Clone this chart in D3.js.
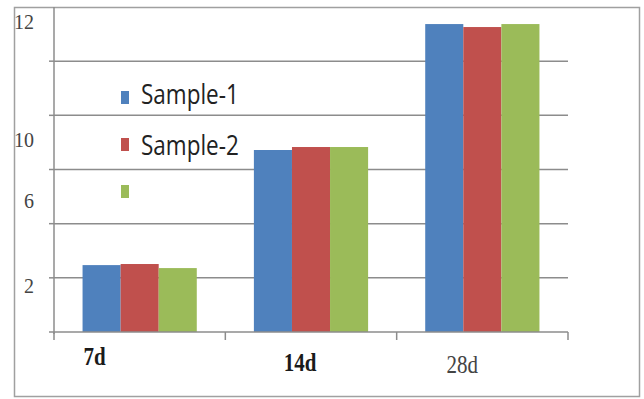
<!DOCTYPE html>
<html>
<head>
<meta charset="utf-8">
<script src="https://cdn.jsdelivr.net/npm/d3@7"></script>
<style>
  html, body { margin: 0; padding: 0; background: #fff; }
  svg { display: block; }
</style>
</head>
<body>
<svg id="chart" width="644" height="399"></svg>
<script>
// Curing ages and series
const categories = ["7d", "14d", "28d"];
const seriesNames = ["Sample-1", "Sample-2", ""];
const sample1 = [2.47, 6.72, 11.37];
const sample2 = [2.51, 6.83, 11.26];
const sample3 = [2.36, 6.83, 11.37];
const seriesValues = [sample1, sample2, sample3];
const seriesColors = ["#4F81BD", "#C0504D", "#9BBB59"];

// Axis
const yDomain = [0, 12];
const gridValues = [2, 4, 6, 8, 10];
const yTickLabels = ["12", "10", "6", "2"];
const yTickLabelAt = [11.45, 7.1, 4.85, 1.7];
const xLabelBold = [true, true, false];
const xLabelShift = [-45, -11, -20];
const xLabelBaseline = [365, 371, 373];

const svg = d3.select("#chart");
const plotLeft = 54, plotRight = 568, plotTop = 7, plotBottom = 332;
const stretch = 1.2; // text is drawn taller than wide

// outer frame
svg.append("rect")
  .attr("x", 14.5).attr("y", 7.5)
  .attr("width", 625).attr("height", 389)
  .attr("fill", "none").attr("stroke", "#a0a0a0").attr("stroke-width", 1.5);

const x = d3.scaleBand().domain(categories).range([plotLeft, plotRight]).paddingInner(0).paddingOuter(0);
const y = d3.scaleLinear().domain(yDomain).range([plotBottom, plotTop]);
const inner = d3.scaleBand().domain(d3.range(seriesValues.length))
  .range([0, x.bandwidth()]).paddingInner(0).paddingOuter(0.75);

// gridlines
svg.append("g").selectAll("line").data(gridValues).join("line")
  .attr("x1", plotLeft).attr("x2", plotRight)
  .attr("y1", d => y(d)).attr("y2", d => y(d))
  .attr("stroke", "#8c8c8c").attr("stroke-width", 1.5);

// y axis line and tick marks
svg.append("line").attr("x1", plotLeft).attr("x2", plotLeft).attr("y1", plotTop).attr("y2", plotBottom + 2)
  .attr("stroke", "#8c8c8c").attr("stroke-width", 1.5);
svg.append("g").selectAll("line").data(gridValues.concat([0])).join("line")
  .attr("x1", plotLeft - 5).attr("x2", plotLeft)
  .attr("y1", d => y(d)).attr("y2", d => y(d))
  .attr("stroke", "#8c8c8c").attr("stroke-width", 1.5);

// bars
seriesValues.forEach((vals, si) => {
  svg.append("g").selectAll("rect").data(vals).join("rect")
    .attr("x", (d, i) => x(categories[i]) + inner(si))
    .attr("width", inner.bandwidth())
    .attr("y", d => y(d))
    .attr("height", d => y(0) - y(d))
    .attr("fill", seriesColors[si]);
});

// x axis line and ticks
svg.append("line").attr("x1", plotLeft).attr("x2", plotRight).attr("y1", plotBottom).attr("y2", plotBottom)
  .attr("stroke", "#8c8c8c").attr("stroke-width", 1.5);
const xTicks = [plotLeft].concat(categories.map(c => x(c) + x.bandwidth()));
svg.append("g").selectAll("line").data(xTicks).join("line")
  .attr("x1", d => d).attr("x2", d => d)
  .attr("y1", plotBottom).attr("y2", plotBottom + 8)
  .attr("stroke", "#8c8c8c").attr("stroke-width", 1.5);

// x labels
svg.append("g").selectAll("text").data(categories).join("text")
  .attr("transform", (d, i) =>
    `translate(${x(d) + x.bandwidth() / 2 + xLabelShift[i]},${xLabelBaseline[i]}) scale(1,${stretch})`)
  .attr("text-anchor", "middle")
  .attr("font-family", "Liberation Serif, serif")
  .attr("font-size", 21)
  .attr("font-weight", (d, i) => xLabelBold[i] ? "bold" : "normal")
  .attr("fill", (d, i) => xLabelBold[i] ? "#1a1a1a" : "#444")
  .text(d => d);

// y labels
svg.append("g").selectAll("text").data(yTickLabels).join("text")
  .attr("transform", (d, i) => `translate(34,${y(yTickLabelAt[i]) + 7}) scale(1,1.08)`)
  .attr("text-anchor", "end")
  .attr("font-family", "Liberation Serif, serif")
  .attr("font-size", 20)
  .attr("fill", "#444")
  .text(d => d);

// legend
const legend = svg.append("g");
seriesNames.forEach((name, i) => {
  legend.append("rect").attr("x", 121).attr("y", 91 + i * 47).attr("width", 8).attr("height", 13)
    .attr("fill", seriesColors[i]);
  legend.append("text")
    .attr("transform", `translate(141,${104 + i * 51}) scale(1,${stretch})`)
    .attr("font-family", "Open Sans, sans-serif").attr("font-size", 22.5)
    .attr("fill", "#222").text(name);
});
</script>
</body>
</html>
